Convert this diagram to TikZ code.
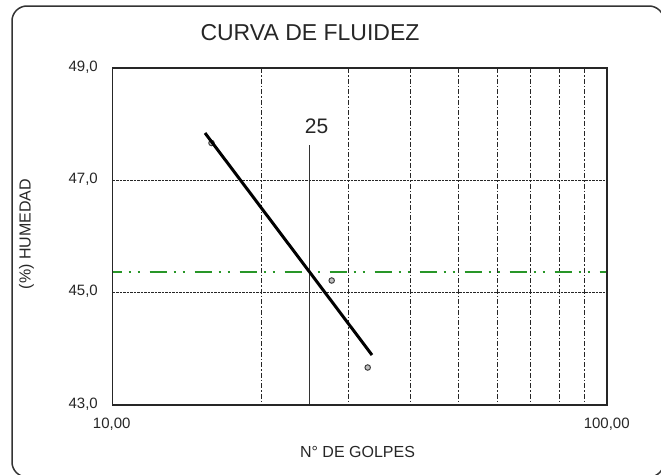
\documentclass[tikz,border=0pt]{standalone}
\usepackage{fontspec}
\setmainfont{Liberation Sans}
\begin{document}
\begin{tikzpicture}[x=1pt,y=-1pt,
  frame/.style={draw=black!80,line width=1.5pt,rounded corners=15pt},
  plotframe/.style={draw=black!85,line width=1.7pt},
  vgrid/.style={draw=black!85,line width=1.2pt,dash pattern=on 5pt off 2pt on 1.5pt off 2pt},
  hgrid/.style={draw=black!85,line width=1.4pt,dash pattern=on 2.5pt off 1pt},
  ref/.style={draw=black!80,line width=1.6pt},
  fit/.style={draw=black,line width=3pt},
  green/.style={draw={rgb,255:red,40;green,150;blue,40},line width=2.2pt,
     dash pattern=on 17pt off 7pt on 2pt off 7pt on 2pt off 10pt,dash phase=8pt},
  pt/.style={circle,draw=black!75,fill=black!25,line width=1pt,minimum size=5.5pt,inner sep=0pt},
  lbl/.style={font=\fontsize{15}{15}\selectfont,text=black!85,inner sep=0pt},
  ttl/.style={font=\fontsize{16}{16}\selectfont,text=black!85,inner sep=0pt}]
\useasboundingbox (0,0) rectangle (661,474);
\begin{scope}
\clip (0,0) rectangle (661,474);
\draw[frame] (12,6) rectangle (664,477);
\end{scope}
% plot area corners
\coordinate (pl) at (112.5,405);
\coordinate (pr) at (607,405);
\coordinate (tl) at (112.5,68);
\coordinate (tr) at (607,68);
% vertical grid (log scale 10..100)
\foreach \xx in {261.4,348.4,410.2,458.1,497.3,530.4,559.1,584.4}{
  \draw[vgrid] (\xx,68) -- (\xx,405);
}
% horizontal grid
\draw[hgrid] (112.5,180.3) -- (607,180.3);
\draw[hgrid] (112.5,292.7) -- (607,292.7);
% green humidity line
\draw[green] (112.5,271.7) -- (607,271.7);
% reference line at 25
\coordinate (r25t) at (309.3,145);
\coordinate (r25b) at (309.3,405);
\draw[ref] (r25t) -- (r25b);
\node[font=\fontsize{21}{21}\selectfont,text=black!85,inner sep=0pt] (n25) at (316.5,126) {25};
% plot frame
\draw[plotframe] (tl) rectangle (pr);
% data points
\node[pt] (p1) at (211.5,143) {};
\node[pt] (p2) at (331.7,280.5) {};
\node[pt] (p3) at (367.7,367.5) {};
% fit line
\coordinate (fa) at (205,133);
\coordinate (fb) at (372,355);
\draw[fit] (fa) -- (fb);
% title
\node[font=\fontsize{23}{23}\selectfont,text=black!85,inner sep=0pt] (title) at (310,33) {CURVA DE FLUIDEZ};
% y tick labels
\node[lbl,anchor=east] (y49) at (98,67) {49,0};
\node[lbl,anchor=east] (y47) at (98,179) {47,0};
\node[lbl,anchor=east] (y45) at (98,291) {45,0};
\node[lbl,anchor=east] (y43) at (98,404) {43,0};
% x tick labels
\node[lbl] (x10) at (111.7,424) {10,00};
\node[lbl] (x100) at (606.7,424) {100,00};
% axis titles
\node[ttl] (xt) at (357.5,452) {N° DE GOLPES};
\node[ttl,rotate=90] (yt) at (26.5,234) {(\%) HUMEDAD};
\end{tikzpicture}
\end{document}
